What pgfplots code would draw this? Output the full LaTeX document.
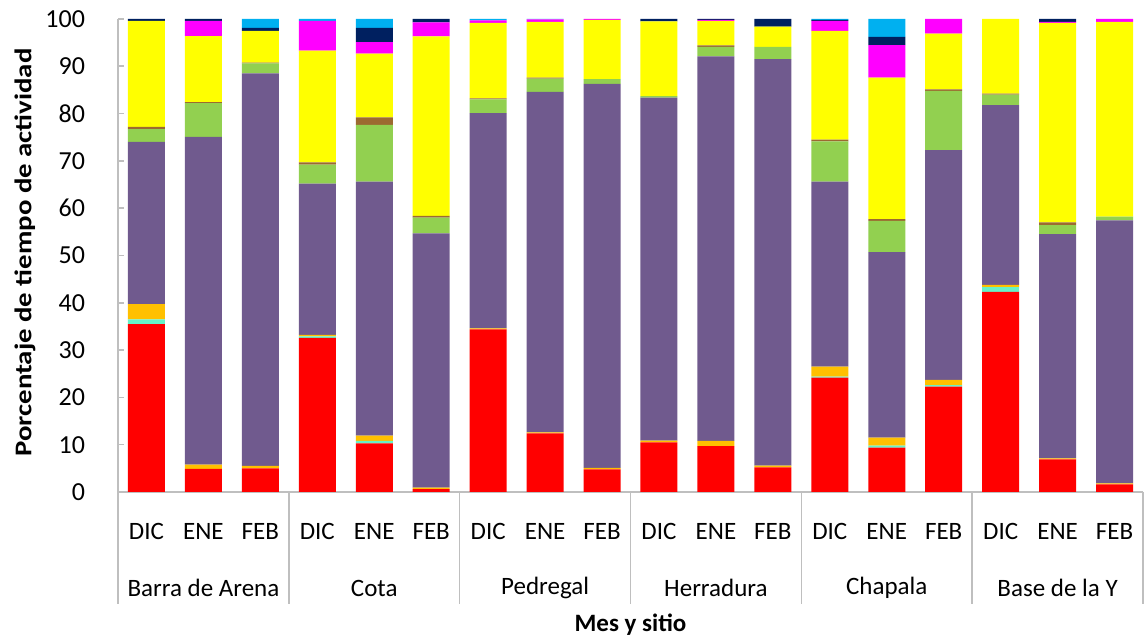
\documentclass[border=0pt]{standalone}
\usepackage{pgfplots}
\pgfplotsset{compat=1.18}
\usepackage{pgfplotstable}
\usepackage{fontspec}
\setmainfont{Carlito}
\definecolor{cRed}{HTML}{FF0000}
\definecolor{cAqua}{HTML}{66F2C8}
\definecolor{cOrange}{HTML}{FFC000}
\definecolor{cPurple}{HTML}{705A8E}
\definecolor{cGreen}{HTML}{92D050}
\definecolor{cBrown}{HTML}{9C6A30}
\definecolor{cYellow}{HTML}{FFFF00}
\definecolor{cMagenta}{HTML}{FF00FF}
\definecolor{cNavy}{HTML}{002060}
\definecolor{cSky}{HTML}{00B0F0}
\definecolor{axgray}{HTML}{BFBFBF}
\pgfplotstableread{
x red aqua orange purple green brown yellow magenta navy sky
0 35.5 1.0 3.2 34.3 2.7 0.5 22.4 0 0.4 0
1 4.9 0 0.9 69.3 7.1 0.2 14.0 3.2 0.4 0
2 5.0 0 0.5 83.0 2.1 0.2 6.7 0 0.6 1.9
3 32.6 0.3 0.3 32.0 4.0 0.5 23.6 6.3 0 0.4
4 10.3 0.5 1.1 53.7 12.0 1.6 13.5 2.4 3.0 1.9
5 0.6 0 0.3 53.8 3.3 0.4 37.9 3.0 0.7 0
6 34.4 0 0.2 45.5 2.9 0.2 16.0 0.5 0 0.3
7 12.4 0 0.2 72.0 2.8 0.2 11.8 0.5 0 0.1
8 4.8 0 0.3 81.2 1.0 0 12.5 0.2 0 0
9 10.5 0 0.35 72.55 0.3 0 15.8 0 0.5 0
10 9.7 0 1.1 81.3 2.0 0.3 5.2 0.2 0.2 0
11 5.2 0 0.4 85.9 2.6 0 4.3 0 1.6 0
12 24.2 0.2 2.1 39.1 8.5 0.4 23.0 2.1 0.2 0.2
13 9.4 0.4 1.7 39.2 6.6 0.4 29.9 6.9 1.7 3.8
14 22.3 0.3 1.1 48.6 12.5 0.3 11.8 3.1 0 0
15 42.3 1.0 0.5 38.0 2.2 0.2 15.8 0 0 0
16 6.9 0 0.2 47.4 1.9 0.6 42.2 0.2 0.6 0
17 1.6 0 0.2 55.6 0.8 0 41.2 0.6 0 0
}\datatable
\begin{document}
\begin{tikzpicture}
\useasboundingbox (0,0) rectangle (572pt,320.5pt);
\begin{axis}[
  at={(59pt,74.5pt)}, anchor=south west,
  scale only axis, width=512.5pt, height=236.5pt,
  ybar stacked, bar width=18.5pt,
  xmin=-0.5, xmax=17.5, ymin=0, ymax=100,
  axis x line*=bottom, axis y line*=left,
  axis line style={axgray, line width=0.8pt},
  every outer x axis line/.append style={-},
  every outer y axis line/.append style={-},
  xtick=data,
  xticklabels={DIC,ENE,FEB,DIC,ENE,FEB,DIC,ENE,FEB,DIC,ENE,FEB,DIC,ENE,FEB,DIC,ENE,FEB},
  xticklabel style={anchor=center, yshift=-19.5pt, font=\fontsize{12.5}{14}\selectfont},
  x tick style={draw=none},
  ytick={0,10,...,100},
  y tick style={axgray, line width=0.8pt},
  tick align=inside, major tick length=3pt,
  yticklabel style={font=\fontsize{13}{15}\selectfont, anchor=east, xshift=-13pt},
  /pgf/number format/assume math mode=true,
  clip=false,
  every axis plot/.append style={draw=none},
]
\addplot[fill=cRed] table[x=x,y=red]{\datatable};
\addplot[fill=cAqua] table[x=x,y=aqua]{\datatable};
\addplot[fill=cOrange] table[x=x,y=orange]{\datatable};
\addplot[fill=cPurple] table[x=x,y=purple]{\datatable};
\addplot[fill=cGreen] table[x=x,y=green]{\datatable};
\addplot[fill=cBrown] table[x=x,y=brown]{\datatable};
\addplot[fill=cYellow] table[x=x,y=yellow]{\datatable};
\addplot[fill=cMagenta] table[x=x,y=magenta]{\datatable};
\addplot[fill=cNavy] table[x=x,y=navy]{\datatable};
\addplot[fill=cSky] table[x=x,y=sky]{\datatable};
\pgfplotsinvokeforeach{-0.5,2.5,5.5,8.5,11.5,14.5,17.5}{
  \draw[axgray, line width=0.8pt] (axis cs:#1,0) -- ([yshift=-56pt]axis cs:#1,0);
}
\node[anchor=center, font=\fontsize{12.5}{14}\selectfont] at ([yshift=-48pt]axis cs:1,0) {Barra de Arena};
\node[anchor=center, font=\fontsize{12.5}{14}\selectfont] at ([yshift=-48pt]axis cs:4,0) {Cota};
\node[anchor=center, font=\fontsize{12.5}{14}\selectfont] at ([yshift=-48pt]axis cs:7,0) {Pedregal};
\node[anchor=center, font=\fontsize{12.5}{14}\selectfont] at ([yshift=-48pt]axis cs:10,0) {Herradura};
\node[anchor=center, font=\fontsize{12.5}{14}\selectfont] at ([yshift=-48pt]axis cs:13,0) {Chapala};
\node[anchor=center, font=\fontsize{12.5}{14}\selectfont] at ([yshift=-48pt]axis cs:16,0) {Base de la Y};
\node[anchor=center, font=\fontsize{12.5}{14}\selectfont\bfseries] at ([yshift=-66.5pt]rel axis cs:0.5,0) {Mes y sitio};
\node[anchor=center, rotate=90, font=\fontsize{12}{14}\selectfont\bfseries] at ([xshift=-46.5pt,yshift=1.5pt]rel axis cs:0,0.5) {\scalebox{1.2}[1]{Porcentaje de tiempo de actividad}};
\end{axis}
\end{tikzpicture}
\end{document}
